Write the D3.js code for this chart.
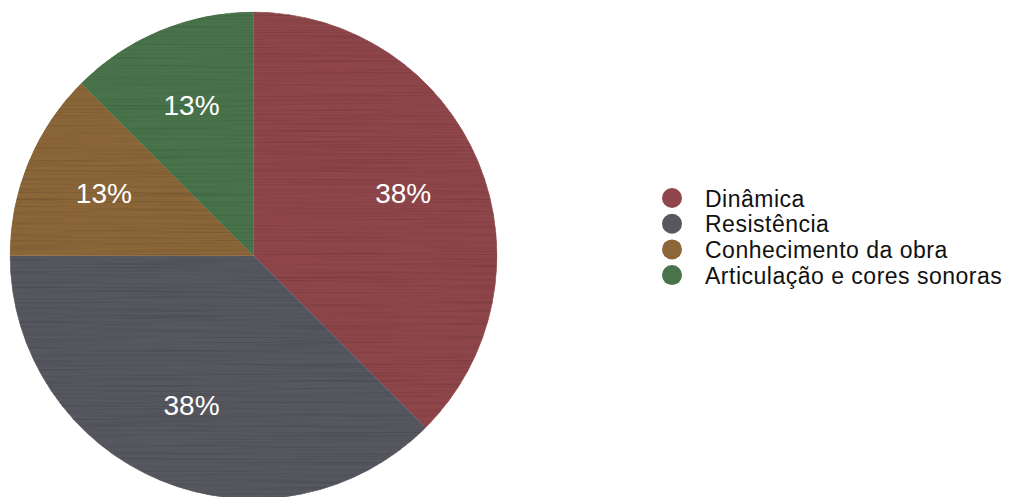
<!DOCTYPE html>
<html>
<head>
<meta charset="utf-8">
<script src="https://cdn.jsdelivr.net/npm/d3@7"></script>
<style>
  html, body { margin: 0; padding: 0; background: #ffffff; }
  svg { display: block; }
</style>
</head>
<body>
<svg id="chart" width="1009" height="497"></svg>
<script>
// Categories and their shares (counts out of 8 responses)
const categories = ["Dinâmica", "Resistência", "Conhecimento da obra", "Articulação e cores sonoras"];
const counts = [3, 3, 1, 1];
const colors = ["#8f464a", "#56575f", "#8b6639", "#49744b"];

const width = 1009, height = 497;
const cx = 253.5, cy = 255.5, radius = 243.5, labelRadius = 162;

const svg = d3.select("#chart");

// Brushed, horizontally streaked texture applied to each slice
const defs = svg.append("defs");
const filt = defs.append("filter")
  .attr("id", "brushed")
  .attr("x", "-1%").attr("y", "-1%").attr("width", "102%").attr("height", "102%")
  .attr("color-interpolation-filters", "sRGB");
filt.append("feTurbulence")
  .attr("type", "fractalNoise")
  .attr("baseFrequency", "0.006 0.6")
  .attr("numOctaves", 2)
  .attr("seed", 7)
  .attr("result", "noise");
filt.append("feColorMatrix")
  .attr("in", "noise")
  .attr("type", "matrix")
  .attr("values", "0.3 0 0 0 0.83  0.3 0 0 0 0.83  0.3 0 0 0 0.83  0 0 0 0 1")
  .attr("result", "grain");
filt.append("feBlend")
  .attr("in", "SourceGraphic")
  .attr("in2", "grain")
  .attr("mode", "multiply")
  .attr("result", "tex");
filt.append("feComposite")
  .attr("in", "tex")
  .attr("in2", "SourceGraphic")
  .attr("operator", "in");

const pie = d3.pie().sort(null).value(d => d)(counts);
const total = d3.sum(counts);
const arc = d3.arc().innerRadius(0).outerRadius(radius);
const labelArc = d3.arc().innerRadius(labelRadius).outerRadius(labelRadius);

const g = svg.append("g").attr("transform", `translate(${cx},${cy})`);

g.selectAll("path.slice")
  .data(pie)
  .join("path")
  .attr("class", "slice")
  .attr("d", arc)
  .attr("fill", (d, i) => colors[i])
  .attr("stroke", (d, i) => colors[i])
  .attr("stroke-width", 0.8)
  .attr("stroke-linejoin", "round")
  .attr("filter", "url(#brushed)");

g.selectAll("text.pct")
  .data(pie)
  .join("text")
  .attr("class", "pct")
  .attr("transform", d => `translate(${labelArc.centroid(d)})`)
  .attr("text-anchor", "middle")
  .attr("dy", "0.34em")
  .attr("fill", "#ffffff")
  .style("font-family", "'Liberation Sans', Arial, Helvetica, sans-serif")
  .style("font-size", "28px")
  .text(d => d3.format(".0%")(d.value / total));

// Legend
const legend = svg.append("g").attr("transform", "translate(672,198)");
const rowStep = 25.7;
const items = legend.selectAll("g.item")
  .data(categories)
  .join("g")
  .attr("class", "item")
  .attr("transform", (d, i) => `translate(0,${i * rowStep})`);
items.append("circle")
  .attr("r", 10)
  .attr("fill", (d, i) => colors[i]);
items.append("text")
  .attr("x", 33)
  .attr("y", 8.5)
  .attr("fill", "#111111")
  .style("font-family", "'Liberation Sans', Arial, Helvetica, sans-serif")
  .style("font-size", "23px")
  .style("letter-spacing", "0.5px")
  .text(d => d);
</script>
</body>
</html>
